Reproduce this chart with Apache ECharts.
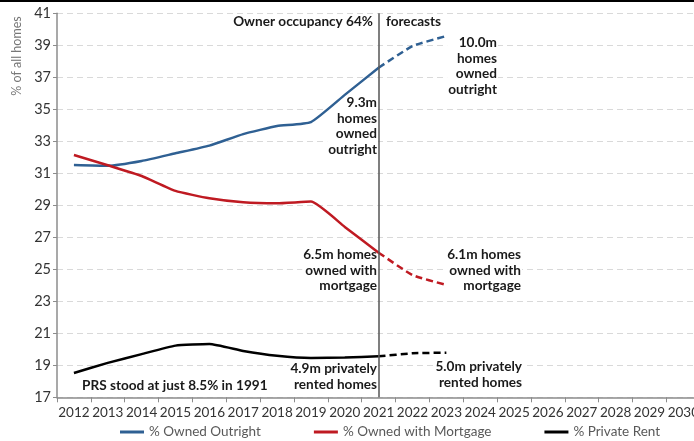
<!DOCTYPE html>
<html>
<head>
<meta charset="utf-8">
<script src="https://cdn.jsdelivr.net/npm/echarts@6/dist/echarts.min.js"></script>
<style>
  html, body { margin: 0; padding: 0; background: #fff; overflow: hidden; }
  #chart { width: 702px; height: 441px; }
</style>
</head>
<body>
<div id="chart"></div>
<script>
    'use strict';

    // x categories
    var years = ['2012', '2013', '2014', '2015', '2016', '2017', '2018', '2019', '2020', '2021',
        '2022', '2023', '2024', '2025', '2026', '2027', '2028', '2029', '2030'];

    // actuals 2012-2021
    var outrightActual = [31.52, 31.47, 31.77, 32.25, 32.73, 33.45, 33.95, 34.2, 35.9, 37.6];
    var mortgageActual = [32.14, 31.5, 30.83, 29.9, 29.44, 29.19, 29.13, 29.23, 27.65, 26.04];
    var rentActual = [18.52, 19.15, 19.7, 20.23, 20.33, 19.9, 19.6, 19.46, 19.48, 19.56];

    // forecasts 2021-2023
    var forecastStart = 9;
    var outrightForecast = [37.6, 38.95, 39.58];
    var mortgageForecast = [26.04, 24.64, 24.02];
    var rentForecast = [19.56, 19.75, 19.79];

    var seriesNames = ['% Owned Outright', '% Owned with Mortgage', '% Private Rent'];
    var colors = ['#2f6093', '#bf1a22', '#000000'];

    var FONT = 'Lato, "Liberation Sans", sans-serif';

    function pad(arr) {
        var out = [];
        for (var i = 0; i < forecastStart; i++) { out.push(null); }
        return out.concat(arr);
    }

    function solid(name, data, color) {
        return {
            name: name,
            type: 'line',
            data: data,
            smooth: 0.15,
            showSymbol: false,
            symbol: 'none',
            color: color,
            z: 3,
            lineStyle: { color: color, width: 2.5 }
        };
    }

    function dashed(name, data, color) {
        return {
            name: name + ' forecast',
            type: 'line',
            data: pad(data),
            smooth: 0.15,
            showSymbol: false,
            symbol: 'none',
            color: color,
            z: 3,
            lineStyle: { color: color, width: 2.5, type: [7, 4] }
        };
    }

    // annotations: bold dark text on white boxes (hide gridlines behind)
    function note(text, x, y, align) {
        return {
            type: 'text',
            x: x,
            y: y,
            z: 1,
            silent: true,
            style: {
                text: text,
                fill: '#1a1a1a',
                font: 'bold 13.6px ' + FONT,
                align: align,
                verticalAlign: 'top',
                lineHeight: 15.5,
                backgroundColor: '#fff',
                padding: [0, 1, 0, 1]
            }
        };
    }

    var series = [
        solid(seriesNames[0], outrightActual, colors[0]),
        solid(seriesNames[1], mortgageActual, colors[1]),
        solid(seriesNames[2], rentActual, colors[2]),
        dashed(seriesNames[0], outrightForecast, colors[0]),
        dashed(seriesNames[1], mortgageForecast, colors[1]),
        dashed(seriesNames[2], rentForecast, colors[2])
    ];

    // vertical line at the forecast start
    series[0].markLine = {
        silent: true,
        symbol: 'none',
        label: { show: false },
        lineStyle: { color: '#555', width: 1.5, type: 'solid' },
        data: [{ xAxis: years[forecastStart] }]
    };

    var option = {
        animation: false,
        textStyle: { fontFamily: FONT },
        grid: { left: 57, top: 13.3, width: 644, height: 384 },
        legend: {
            data: seriesNames,
            left: 115,
            top: 420,
            icon: 'rect',
            itemWidth: 24,
            itemHeight: 3,
            itemGap: 53,
            textStyle: { color: '#595959', fontSize: 13.5, fontFamily: FONT }
        },
        xAxis: {
            type: 'category',
            data: years,
            boundaryGap: true,
            axisLine: { lineStyle: { color: '#8c8c8c', width: 1.5 } },
            axisTick: { show: true, length: 5, lineStyle: { color: '#8c8c8c' } },
            axisLabel: { interval: 0, color: '#333', fontSize: 13.5, margin: 8, fontFamily: FONT },
            splitLine: { show: false }
        },
        yAxis: {
            type: 'value',
            min: 17,
            max: 41,
            interval: 2,
            axisLine: { show: true, lineStyle: { color: '#8c8c8c', width: 1.5 } },
            axisTick: { show: true, length: 4, lineStyle: { color: '#8c8c8c' } },
            axisLabel: { color: '#333', fontSize: 14.5, margin: 6, fontFamily: FONT },
            splitLine: { show: true, lineStyle: { color: '#d9d9d9', type: [6, 4] } }
        },
        graphic: [
            {
                type: 'line',
                silent: true,
                shape: { x1: 0, y1: 1, x2: 702, y2: 1 },
                style: { stroke: '#000', lineWidth: 2 }
            },
            {
                type: 'text',
                x: 17,
                y: 56,
                rotation: Math.PI / 2,
                silent: true,
                style: {
                    text: '% of all homes',
                    fill: '#777',
                    font: '12.5px ' + FONT,
                    align: 'center',
                    verticalAlign: 'middle'
                }
            },
            note('Owner occupancy 64%', 374, 14, 'right'),
            note('forecasts', 385, 14, 'left'),
            note('9.3m\nhomes\nowned\noutright', 378, 95, 'right'),
            note('10.0m\nhomes\nowned\noutright', 498, 35, 'right'),
            note('6.5m homes\nowned with\nmortgage', 378, 247, 'right'),
            note('6.1m homes\nowned with\nmortgage', 522, 247, 'right'),
            note('4.9m privately\nrented homes', 378, 361, 'right'),
            note('5.0m privately\nrented homes', 523, 359, 'right'),
            note('PRS stood at just 8.5% in 1991', 81, 378, 'left')
        ],
        series: series
    };

    var chart = echarts.init(document.getElementById('chart'));
    chart.setOption(option);
</script>
</body>
</html>
